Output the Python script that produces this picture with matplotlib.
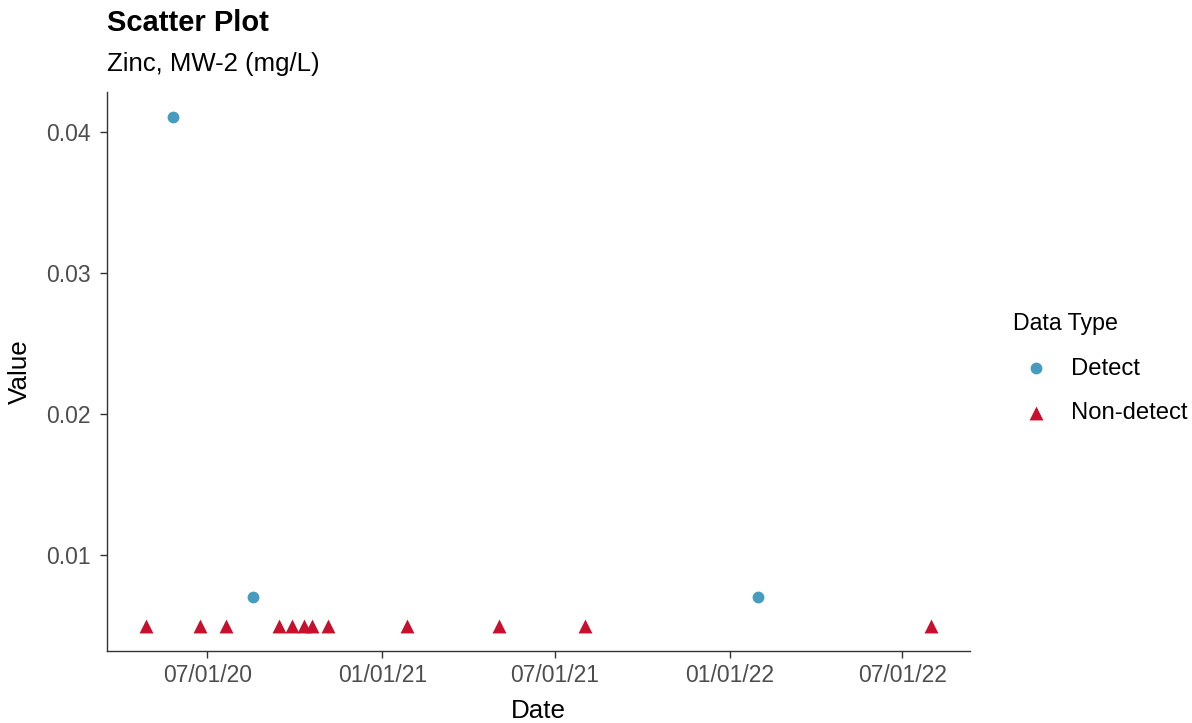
import matplotlib
matplotlib.use("Agg")
import matplotlib.pyplot as plt
import matplotlib.dates as mdates
import numpy as np

plt.rcParams['font.family'] = ['Liberation Sans', 'DejaVu Sans']

# values
detect_dates = ['2020-05-26', '2020-08-18', '2022-01-31']
detect_vals = [0.041, 0.007, 0.007]

nd_dates = ['2020-04-28', '2020-06-23', '2020-07-21', '2020-09-14', '2020-09-28',
            '2020-10-11', '2020-10-19', '2020-11-05', '2021-01-27', '2021-05-03',
            '2021-08-02', '2022-07-31']
nd_vals = [0.005] * len(nd_dates)

x_ticks = ['2020-07-01', '2021-01-01', '2021-07-01', '2022-01-01', '2022-07-01']
y_ticks = [0.01, 0.02, 0.03, 0.04]

blue = '#469BBE'
red = '#C8102E'

W, H = 1192, 723
fig = plt.figure(figsize=(W / 100, H / 100), dpi=100)
ax = fig.add_axes([107 / W, 1 - 651 / H, (970 - 107) / W, (651 - 92) / H])

d_det = mdates.datestr2num(detect_dates)
d_nd = mdates.datestr2num(nd_dates)

ax.scatter(d_det, detect_vals, s=72, marker='o', color=blue, linewidths=0,
           label='Detect', zorder=3)
ax.scatter(d_nd, nd_vals, s=100, marker='^', color=red, linewidths=0,
           label='Non-detect', zorder=3)

# ggplot style 5% expansion
all_x = np.concatenate([d_det, d_nd])
all_y = np.array(detect_vals + nd_vals)
xr = all_x.max() - all_x.min()
yr = all_y.max() - all_y.min()
ax.set_xlim(all_x.min() - 0.05 * xr, all_x.max() + 0.05 * xr)
ax.set_ylim(all_y.min() - 0.05 * yr, all_y.max() + 0.05 * yr)

ax.set_xticks(mdates.datestr2num(x_ticks))
ax.xaxis.set_major_formatter(mdates.DateFormatter('%m/%d/%y'))
ax.set_yticks(y_ticks)
ax.set_yticklabels(['%.2f' % v for v in y_ticks])

for s in ['top', 'right']:
    ax.spines[s].set_visible(False)
for s in ['left', 'bottom']:
    ax.spines[s].set_color('#333333')
    ax.spines[s].set_linewidth(1.0)
ax.tick_params(axis='both', colors='#333333', labelcolor='#4D4D4D',
               labelsize=16.5, length=5, width=1.0, pad=4.5)
ax.tick_params(axis='y', pad=6.5)

ax.set_xlabel('Date', fontsize=18.7)
ax.set_ylabel('Value', fontsize=18.7)
ax.xaxis.set_label_coords(0.5, (651 - 699) / 559)
ax.yaxis.set_label_coords((32 - 107) / 863, 0.5)

fig.text(107 / W, 1 - 31 / H, 'Scatter Plot', fontsize=21, fontweight='bold',
         va='baseline', ha='left')
fig.text(107 / W, 1 - 71 / H, 'Zinc, MW-2 (mg/L)', fontsize=18.5,
         va='baseline', ha='left')

leg = ax.legend(loc='upper left', bbox_to_anchor=(1013 / W, 1 - 312 / H),
                bbox_transform=fig.transFigure, frameon=False,
                title='Data Type', fontsize=17.2, title_fontsize=16.7,
                handlelength=1.92, handletextpad=0.5, labelspacing=0.95,
                borderpad=0, borderaxespad=0, alignment='left')

fig.savefig('out.png', dpi=100)
